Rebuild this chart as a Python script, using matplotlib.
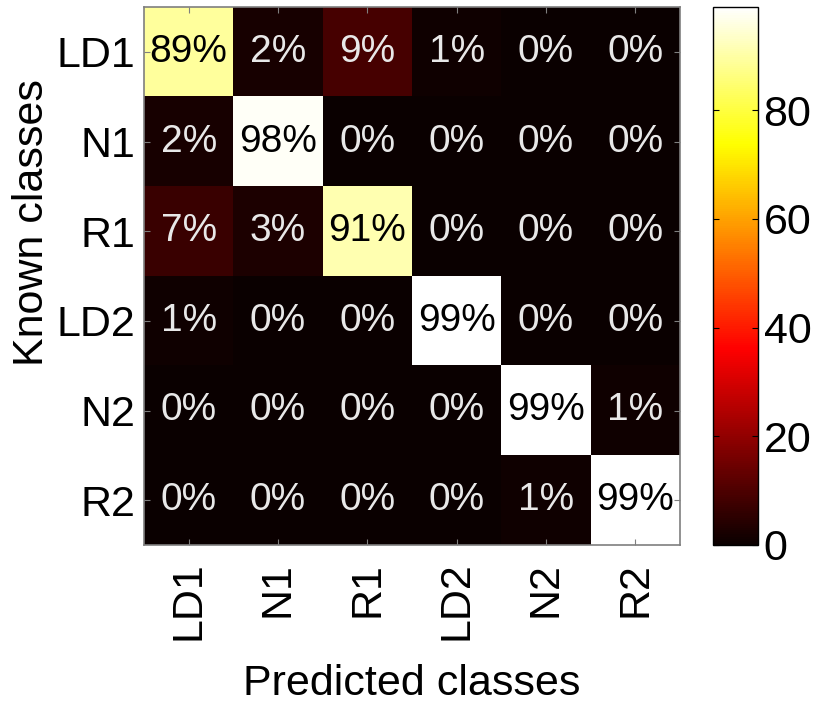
import numpy as np
import matplotlib
matplotlib.use("Agg")
import matplotlib.pyplot as plt

plt.rcParams["font.family"] = ["Liberation Sans", "DejaVu Sans"]

classes = ["LD1", "N1", "R1", "LD2", "N2", "R2"]
# rows = known classes, columns = predicted classes (percent)
conf = [
    [89, 2, 9, 1, 0, 0],
    [2, 98, 0, 0, 0, 0],
    [7, 3, 91, 0, 0, 0],
    [1, 0, 0, 99, 0, 0],
    [0, 0, 0, 0, 99, 1],
    [0, 0, 0, 0, 1, 99],
]
cbar_ticks = [0, 20, 40, 60, 80]

mat = np.array(conf, dtype=float)
frame = "#7f7f7f"

fig = plt.figure(figsize=(8.17, 7.04), dpi=100)
ax = fig.add_axes([144 / 817, 159 / 704, 536 / 817, 538 / 704])
cax = fig.add_axes([713 / 817, 159 / 704, 45 / 817, 538 / 704])

im = ax.imshow(mat, cmap="hot", vmin=0, vmax=mat.max(), aspect="auto",
               interpolation="nearest")

for i in range(mat.shape[0]):
    for j in range(mat.shape[1]):
        v = mat[i, j]
        col = "black" if v > 50 else "#e8e8e8"
        ax.text(j, i, "%d%%" % v, ha="center", va="center",
                fontsize=28, color=col)

ax.set_xticks(range(len(classes)))
ax.set_yticks(range(len(classes)))
ax.set_xticklabels(classes, rotation=90, fontsize=31)
ax.set_yticklabels(classes, fontsize=31)
ax.tick_params(direction="in", length=4, color=frame, top=True, right=True)
ax.tick_params(axis="x", pad=12)
ax.tick_params(axis="y", pad=6)
for s in ax.spines.values():
    s.set_color(frame)
    s.set_linewidth(1.2)

ax.set_xlabel("Predicted classes", fontsize=31, labelpad=17)
ax.set_ylabel("Known classes", fontsize=31, va="center")
ax.yaxis.set_label_coords(-0.209, 0.60)

cb = fig.colorbar(im, cax=cax, ticks=cbar_ticks)
cb.ax.tick_params(labelsize=31, direction="in", length=4, left=True,
                  right=True, pad=4)
cb.outline.set_linewidth(1.0)

fig.savefig("out.png", dpi=100)
